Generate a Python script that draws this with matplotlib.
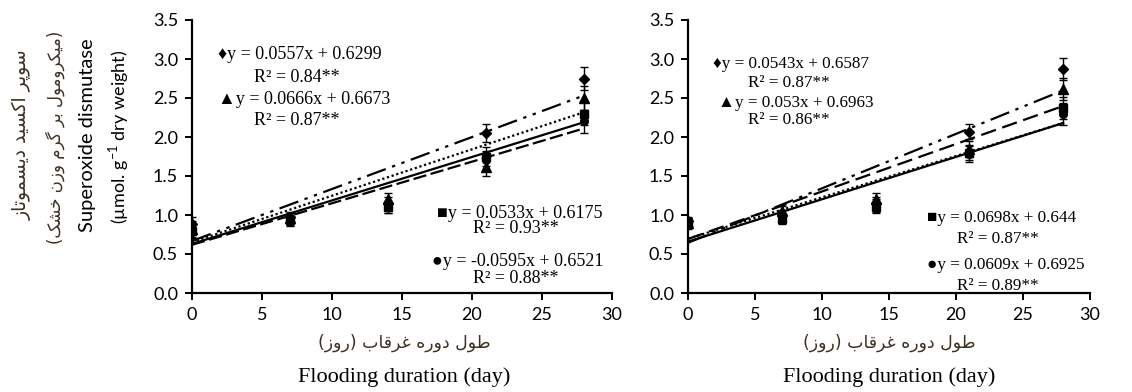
import matplotlib
matplotlib.use("Agg")
import matplotlib.pyplot as plt

# ------------------------------------------------------------------
# data
# ------------------------------------------------------------------
days = [0, 7, 14, 21, 28]

# left panel
left_diamond = [0.88, 0.98, 1.15, 2.05, 2.75]
left_triangle = [0.82, 0.96, 1.20, 1.62, 2.50]
left_square = [0.80, 0.93, 1.10, 1.75, 2.30]
left_circle = [0.78, 0.92, 1.10, 1.70, 2.20]
left_err = [0.10, 0.06, 0.08, 0.12, 0.15]

# right panel
right_diamond = [0.92, 1.00, 1.15, 2.07, 2.87]
right_triangle = [0.90, 1.05, 1.20, 1.85, 2.62]
right_square = [0.90, 0.95, 1.10, 1.80, 2.37]
right_circle = [0.88, 0.97, 1.12, 1.78, 2.30]
right_err = [0.06, 0.06, 0.08, 0.10, 0.14]

# regression lines (slope, intercept) in order diamond, triangle, square, circle
left_slopes = [0.0557, 0.0666, 0.0533, 0.0595]
left_intercepts = [0.6299, 0.6673, 0.6175, 0.6521]
right_slopes = [0.0543, 0.053, 0.0698, 0.0609]
right_intercepts = [0.6587, 0.6963, 0.644, 0.6925]

left_labels = ["♦y = 0.0557x + 0.6299", "R² = 0.84**",
               "▲y = 0.0666x + 0.6673", "R² = 0.87**",
               "■y = 0.0533x + 0.6175", "R² = 0.93**",
               "●y = -0.0595x + 0.6521", "R² = 0.88**"]
right_labels = ["♦y = 0.0543x + 0.6587", "R² = 0.87**",
                "▲y = 0.053x + 0.6963", "R² = 0.86**",
                "■y = 0.0698x + 0.644", "R² = 0.87**",
                "●y = 0.0609x + 0.6925", "R² = 0.89**"]

# ------------------------------------------------------------------
# tiny Persian shaper (matplotlib has no RTL / joining support)
# ------------------------------------------------------------------
FORMS = {
    "ا": (0xFE8D, 0xFE8E), "ب": (0xFE8F, 0xFE90, 0xFE91, 0xFE92),
    "پ": (0xFB56, 0xFB57, 0xFB58, 0xFB59), "ت": (0xFE95, 0xFE96, 0xFE97, 0xFE98),
    "خ": (0xFEA5, 0xFEA6, 0xFEA7, 0xFEA8), "د": (0xFEA9, 0xFEAA),
    "ر": (0xFEAD, 0xFEAE), "ز": (0xFEAF, 0xFEB0),
    "س": (0xFEB1, 0xFEB2, 0xFEB3, 0xFEB4), "ش": (0xFEB5, 0xFEB6, 0xFEB7, 0xFEB8),
    "ط": (0xFEC1, 0xFEC2, 0xFEC3, 0xFEC4), "غ": (0xFECD, 0xFECE, 0xFECF, 0xFED0),
    "ق": (0xFED5, 0xFED6, 0xFED7, 0xFED8), "ک": (0xFB8E, 0xFB8F, 0xFB90, 0xFB91),
    "گ": (0xFB92, 0xFB93, 0xFB94, 0xFB95), "ل": (0xFEDD, 0xFEDE, 0xFEDF, 0xFEE0),
    "م": (0xFEE1, 0xFEE2, 0xFEE3, 0xFEE4), "ن": (0xFEE5, 0xFEE6, 0xFEE7, 0xFEE8),
    "ه": (0xFEE9, 0xFEEA, 0xFEEB, 0xFEEC), "و": (0xFEED, 0xFEEE),
    "ی": (0xFBFC, 0xFBFD, 0xFBFE, 0xFBFF),
}


def fa(text):
    out = []
    for i, ch in enumerate(text):
        if ch not in FORMS:
            out.append(ch)
            continue
        prev = text[i - 1] if i > 0 else ""
        nxt = text[i + 1] if i + 1 < len(text) else ""
        f = FORMS[ch]
        join_prev = prev in FORMS and len(FORMS[prev]) == 4
        join_next = nxt in FORMS and len(f) == 4
        if join_prev and join_next:
            c = f[3]
        elif join_prev:
            c = f[1]
        elif join_next:
            c = f[2]
        else:
            c = f[0]
        out.append(chr(c))
    s = "".join(reversed(out))
    return s.translate(str.maketrans("()", ")("))


SANS = ["Lato", "DejaVu Sans"]
SERIF = ["Liberation Serif", "DejaVu Sans"]
FA_FONT = ["DejaVu Sans"]
FA_COLOR = "#3d3020"

plt.rcParams["font.family"] = SANS
plt.rcParams["mathtext.fontset"] = "custom"
plt.rcParams["mathtext.rm"] = "Lato"

fig = plt.figure(figsize=(11.32, 3.92), dpi=100)
W, H = 1132, 392


def add_axes(x0, x1, y_top, y_bot):
    return fig.add_axes([x0 / W, 1 - y_bot / H, (x1 - x0) / W, (y_bot - y_top) / H])


ax_l = add_axes(192, 612, 20, 293)
ax_r = add_axes(688, 1090, 20, 293)

markers = ["D", "^", "s", "o"]
msizes = [5.5, 7, 6, 5.5]
top_style = (0, (9, 3, 1.5, 3, 1.5, 3))
left_styles = ["-", top_style, (0, (6, 2)), (0, (1, 1.2))]
right_styles = ["-", (0, (1, 1.2)), top_style, (0, (7, 3))]

panels = [
    (ax_l, [left_diamond, left_triangle, left_square, left_circle], left_err,
     left_slopes, left_intercepts, left_styles),
    (ax_r, [right_diamond, right_triangle, right_square, right_circle], right_err,
     right_slopes, right_intercepts, right_styles),
]

for ax, series, err, slopes, intercepts, styles in panels:
    for vals, m, ms in zip(series, markers, msizes):
        ax.errorbar(days, vals, yerr=err, fmt=m, color="black", ms=ms,
                    elinewidth=1, capsize=3, capthick=1, zorder=3)
    for k, b, ls in zip(slopes, intercepts, styles):
        xs = [days[0], days[-1]]
        ax.plot(xs, [k * x + b for x in xs], color="black", lw=1.6, ls=ls, zorder=2)

    ax.set_xlim(0, 30)
    ax.set_ylim(0, 3.5)
    ax.set_xticks(range(0, 31, 5))
    ax.set_yticks([0, 0.5, 1, 1.5, 2, 2.5, 3, 3.5])
    ax.set_yticklabels([f"{v:.1f}" for v in ax.get_yticks()])
    ax.spines[["top", "right"]].set_visible(False)
    ax.spines[["left", "bottom"]].set_linewidth(1.6)
    ax.tick_params(direction="out", length=5, width=1.4, labelsize=13, pad=5,
                   colors="black")
    ax.patch.set_alpha(0)
    for sp in ax.spines.values():
        sp.set_zorder(4)

# equation annotations (axes fraction)
left_pos = [(0.062, 0.872, "left"), (0.25, 0.79, "center"),
            (0.062, 0.707, "left"), (0.25, 0.632, "center"),
            (0.583, 0.293, "left"), (0.77, 0.236, "center"),
            (0.571, 0.114, "left"), (0.77, 0.053, "center")]
right_pos = [(0.062, 0.838, "left"), (0.251, 0.768, "center"),
             (0.075, 0.696, "left"), (0.251, 0.632, "center"),
             (0.595, 0.275, "left"), (0.771, 0.196, "center"),
             (0.595, 0.103, "left"), (0.771, 0.024, "center")]
for ax, labels, pos, fs in [(ax_l, left_labels, left_pos, 13),
                            (ax_r, right_labels, right_pos, 12.3)]:
    for txt, (x, y, ha) in zip(labels, pos):
        ax.text(x, y, txt, transform=ax.transAxes, ha=ha, va="center",
                fontsize=fs, family=SERIF, color="black")

# x labels
for cx in [404, 889]:
    fig.text(cx / W, 1 - 343 / H, fa("طول دوره غرقاب (روز)"), ha="center",
             va="center", fontsize=12.5, family=FA_FONT, color=FA_COLOR)
    fig.text(cx / W, 1 - 377 / H, "Flooding duration (day)", ha="center",
             va="center", fontsize=16, family=SERIF, color="black")

# y label (left panel only)
fig.text(22 / W, 1 - 135 / H, fa("سوپر اکسید دیسموتاز"), rotation=90,
         ha="center", va="center", fontsize=13.5, family=FA_FONT, color=FA_COLOR)
fig.text(55 / W, 1 - 137 / H, fa("(میکرومول بر گرم وزن خشک)"), rotation=90,
         ha="center", va="center", fontsize=12, family=FA_FONT, color=FA_COLOR)
fig.text(88 / W, 1 - 135 / H, "Superoxide dismutase", rotation=90,
         ha="center", va="center", fontsize=14.5, color="black")
fig.text(119 / W, 1 - 137 / H, r"(µmol. g$^{\mathregular{-1}}$ dry weight)",
         rotation=90, ha="center", va="center", fontsize=13, color="black")

fig.savefig("out.png", dpi=100)
